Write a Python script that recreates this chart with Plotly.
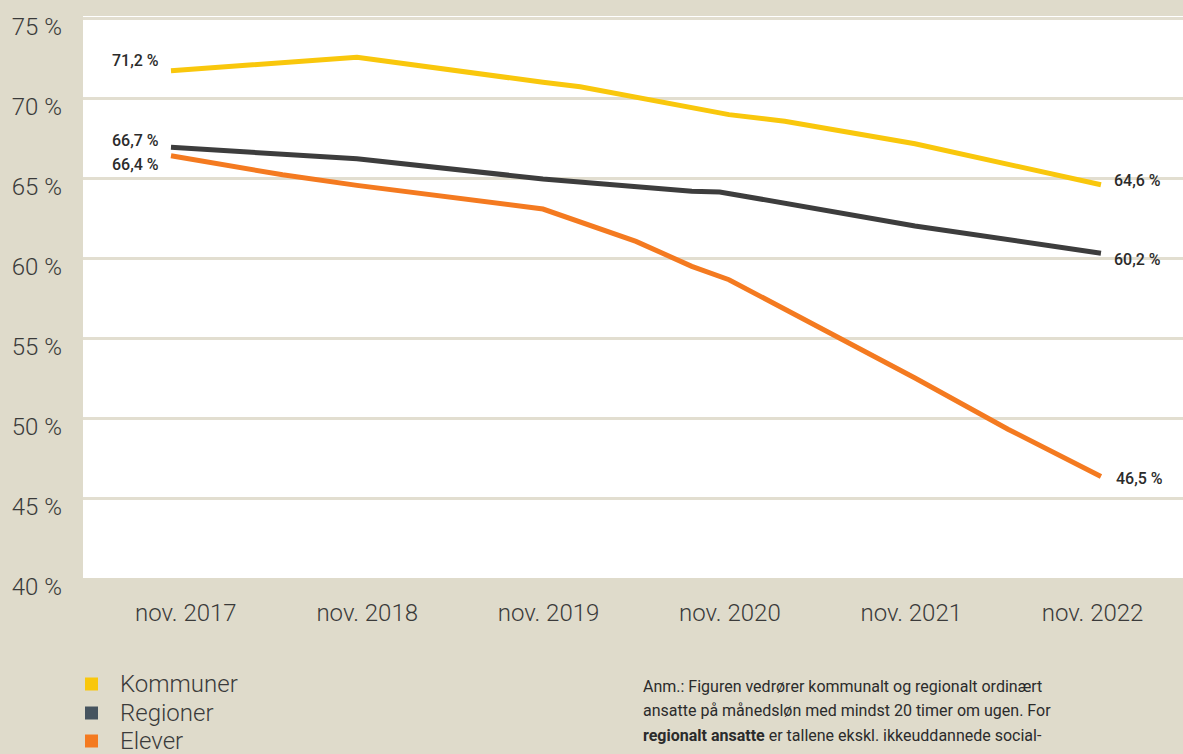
import plotly.graph_objects as go

# ---- data (x = years since nov. 2017) ----
kommuner_x = [0.0, 1.0, 2.0, 2.2, 3.0, 3.3, 4.0, 5.0]
kommuner_y = [71.7, 72.55, 70.98, 70.7, 68.96, 68.55, 67.14, 64.58]

regioner_x = [0.0, 1.0, 2.0, 2.8, 2.95, 4.0, 5.0]
regioner_y = [66.92, 66.2, 64.94, 64.17, 64.13, 62.0, 60.3]

elever_x = [0.0, 0.6, 1.0, 2.0, 2.5, 2.8, 3.0, 3.5, 4.0, 4.5, 5.0]
elever_y = [66.39, 65.2, 64.54, 63.06, 61.04, 59.48, 58.64, 55.56, 52.5, 49.3, 46.35]

tick_labels = ["nov. 2017", "nov. 2018", "nov. 2019", "nov. 2020", "nov. 2021", "nov. 2022"]
tick_pos = [0.08, 1.055, 2.03, 3.005, 3.98, 4.955]

y_ticks = [40, 45, 50, 55, 60, 65, 70, 75]
y_tick_text = ["40 %", "45 %", "50 %", "55 %", "60 %", "65 %", "70 %", "75 %"]

start_labels = ["71,2 %", "66,7 %", "66,4 %"]
end_labels = ["64,6 %", "60,2 %", "46,5 %"]

names = ["Kommuner", "Regioner", "Elever"]
line_colors = ["#F9C70C", "#3D3D3D", "#F47A20"]
legend_colors = ["#F9C70C", "#46545F", "#F47A20"]

note_lines = [
    "Anm.: Figuren vedrører kommunalt og regionalt ordinært",
    "ansatte på månedsløn med mindst 20 timer om ugen. For",
    "<b>regionalt ansatte</b> er tallene ekskl. ikkeuddannede social-",
]

BG = "#DFDBCB"
GRID = "#E2DED0"
TXT = "#3A3A3A"
FONT = "Roboto"

series = [(kommuner_x, kommuner_y), (regioner_x, regioner_y), (elever_x, elever_y)]

fig = go.Figure()
for i, (xs, ys) in enumerate(series):
    fig.add_trace(go.Scatter(
        x=xs, y=ys, mode="lines", name=names[i],
        line=dict(color=line_colors[i], width=5), showlegend=False,
        hoverinfo="skip",
    ))

# value labels
start_shift = [(-10, 10), (-10, 7), (-10, -9)]
end_shift = [(11, 4), (11, -6), (13, -2)]
for i, (xs, ys) in enumerate(series):
    fig.add_annotation(x=xs[0], y=ys[0], text=start_labels[i], showarrow=False,
                       xanchor="right", yanchor="middle",
                       xshift=start_shift[i][0], yshift=start_shift[i][1],
                       font=dict(family=FONT, size=16, color="#2B2B2B", weight=500))
    fig.add_annotation(x=xs[-1], y=ys[-1], text=end_labels[i], showarrow=False,
                       xanchor="left", yanchor="middle",
                       xshift=end_shift[i][0], yshift=end_shift[i][1],
                       font=dict(family=FONT, size=16, color="#2B2B2B", weight=500))

W, H = 1183, 754
L, R, T, B = 83, 0, 16, 176
pw, ph = W - L - R, H - T - B

def px(xp):
    return (xp - L) / pw

def py(yp):
    return (H - B - yp) / ph

# legend (swatches + labels)
legend_y_px = [684, 713, 741]
for i in range(3):
    yc = legend_y_px[i]
    fig.add_shape(type="rect", xref="paper", yref="paper",
                  x0=px(85), x1=px(98), y0=py(yc + 6.5), y1=py(yc - 6.5),
                  line=dict(width=0), fillcolor=legend_colors[i])
    fig.add_annotation(xref="paper", yref="paper", x=px(118), y=py(yc),
                       text=names[i], showarrow=False, xanchor="left", yanchor="middle",
                       font=dict(family=FONT, size=24, color=TXT, weight=300))

# note text
note_y_px = [686, 710, 735]
for j, line in enumerate(note_lines):
    fig.add_annotation(xref="paper", yref="paper",
                       x=px(641), y=py(note_y_px[j]),
                       text=line, showarrow=False, xanchor="left", yanchor="middle",
                       font=dict(family=FONT, size=16, color="#2B2B2B"))

fig.update_layout(
    width=W, height=H,
    margin=dict(l=L, r=R, t=T, b=B, pad=0, autoexpand=False),
    paper_bgcolor=BG, plot_bgcolor="white",
    font=dict(family=FONT, color=TXT),
    showlegend=False,
    xaxis=dict(range=[-0.473, 5.441], tickvals=tick_pos, ticktext=tick_labels,
               showgrid=False, zeroline=False, showline=False, ticks="",
               ticklabelstandoff=18,
               tickfont=dict(family=FONT, size=24, color=TXT, weight=300), fixedrange=True),
    yaxis=dict(range=[40, 75.125], tickvals=y_ticks, ticktext=y_tick_text,
               showgrid=True, gridcolor=GRID, gridwidth=3, zeroline=False, showline=False,
               ticks="", ticklabelstandoff=20, ticklabelshift=9,
               tickfont=dict(family=FONT, size=24, color=TXT, weight=300), fixedrange=True),
)

fig.write_html("out.html")
